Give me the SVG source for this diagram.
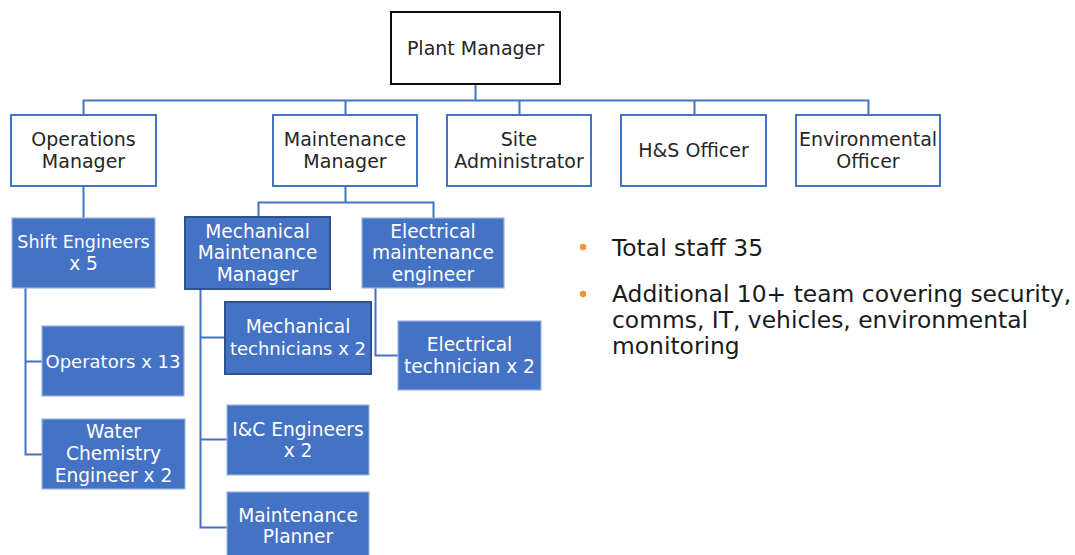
<svg xmlns="http://www.w3.org/2000/svg" width="1075" height="555" viewBox="0 0 1075 555">
  <style>
    .lbl { font-family: "DejaVu Sans", "Liberation Sans", sans-serif; text-anchor: middle; }
    .dark { fill: #262626; font-size: 19px; }
    .light { fill: #ffffff; font-size: 18.6px; }
    .wbox { fill: #ffffff; stroke: #4472c4; stroke-width: 2; }
    .bbox { fill: #4472c4; stroke: #9db4e0; stroke-width: 1.2; }
    .bbox-em { fill: #4472c4; stroke: #2f528f; stroke-width: 2; }
    .link { fill: none; stroke: #4472c4; stroke-width: 2; }
    .note { font-family: "DejaVu Sans", "Liberation Sans", sans-serif; font-size: 23.4px; fill: #1a1a1a; }
  </style>

  <!-- reporting lines -->
  <g id="connectors">
    <path class="link" d="M475.5 84 V100.5 M83.5 115 V100.5 H868.5 V115 M345.5 100.5 V115 M519.5 100.5 V115 M694.5 100.5 V115"/>
    <path class="link" d="M83.5 186 V218"/>
    <path class="link" d="M25.5 288 V454.5 H42 M25.5 361.5 H42"/>
    <path class="link" d="M345.5 186 V202.5 M258.5 218 V202.5 H433.5 V218"/>
    <path class="link" d="M200.5 289 V527.5 H227 M200.5 337.5 H225 M200.5 439.5 H227"/>
    <path class="link" d="M375.5 288 V355.5 H398"/>
  </g>

  <!-- top level -->
  <g id="plant-manager">
    <rect x="391" y="12" width="169" height="72" fill="#ffffff" stroke="#0d0d0d" stroke-width="2"/>
    <text class="lbl dark" x="475.5" y="54.5">Plant Manager</text>
  </g>

  <!-- direct reports -->
  <g id="operations-manager">
    <rect class="wbox" x="11" y="115" width="145" height="71"/>
    <text class="lbl dark" x="83.5" y="146">Operations</text>
    <text class="lbl dark" x="83.5" y="168">Manager</text>
  </g>
  <g id="maintenance-manager">
    <rect class="wbox" x="273" y="115" width="144" height="71"/>
    <text class="lbl dark" x="345" y="146">Maintenance</text>
    <text class="lbl dark" x="345" y="168">Manager</text>
  </g>
  <g id="site-administrator">
    <rect class="wbox" x="447" y="115" width="144" height="71"/>
    <text class="lbl dark" x="519" y="146">Site</text>
    <text class="lbl dark" x="519" y="168">Administrator</text>
  </g>
  <g id="hs-officer">
    <rect class="wbox" x="621" y="115" width="145" height="71"/>
    <text class="lbl dark" x="693.5" y="157">H&amp;S Officer</text>
  </g>
  <g id="environmental-officer">
    <rect class="wbox" x="796" y="115" width="144" height="71"/>
    <text class="lbl dark" x="868" y="146">Environmental</text>
    <text class="lbl dark" x="868" y="168">Officer</text>
  </g>

  <!-- operations team -->
  <g id="shift-engineers">
    <rect class="bbox" x="12" y="218" width="143" height="70"/>
    <text class="lbl light" x="83.5" y="248" style="font-size:17.5px">Shift Engineers</text>
    <text class="lbl light" x="83.5" y="270">x 5</text>
  </g>
  <g id="operators">
    <rect class="bbox" x="42" y="326" width="142" height="70"/>
    <text class="lbl light" x="113" y="367.5" style="font-size:18px">Operators x 13</text>
  </g>
  <g id="water-chemistry-engineer">
    <rect class="bbox" x="42" y="419" width="143" height="70"/>
    <text class="lbl light" x="113.5" y="438">Water</text>
    <text class="lbl light" x="113.5" y="460">Chemistry</text>
    <text class="lbl light" x="113.5" y="481.5">Engineer x 2</text>
  </g>

  <!-- maintenance team -->
  <g id="mechanical-maintenance-manager">
    <rect class="bbox-em" x="185" y="217" width="145" height="72"/>
    <text class="lbl light" x="257.5" y="237.5">Mechanical</text>
    <text class="lbl light" x="257.5" y="259">Maintenance</text>
    <text class="lbl light" x="257.5" y="280.5">Manager</text>
  </g>
  <g id="electrical-maintenance-engineer">
    <rect class="bbox" x="362" y="218" width="142" height="70"/>
    <text class="lbl light" x="433" y="237.5">Electrical</text>
    <text class="lbl light" x="433" y="259">maintenance</text>
    <text class="lbl light" x="433" y="280.5">engineer</text>
  </g>
  <g id="mechanical-technicians">
    <rect class="bbox-em" x="225" y="302" width="146" height="72"/>
    <text class="lbl light" x="298" y="333">Mechanical</text>
    <text class="lbl light" x="298" y="354.5" style="font-size:18px">technicians x 2</text>
  </g>
  <g id="ic-engineers">
    <rect class="bbox" x="227" y="405" width="142" height="70"/>
    <text class="lbl light" x="298" y="435.5">I&amp;C Engineers</text>
    <text class="lbl light" x="298" y="457">x 2</text>
  </g>
  <g id="maintenance-planner">
    <rect class="bbox" x="227" y="492" width="142" height="72"/>
    <text class="lbl light" x="298" y="521.5">Maintenance</text>
    <text class="lbl light" x="298" y="543">Planner</text>
  </g>
  <g id="electrical-technician">
    <rect class="bbox" x="398" y="321" width="143" height="69"/>
    <text class="lbl light" x="469.5" y="351">Electrical</text>
    <text class="lbl light" x="469.5" y="372.5">technician x 2</text>
  </g>

  <!-- staffing notes -->
  <g id="notes">
    <circle cx="583" cy="247" r="3.2" fill="#f5932f"/>
    <circle cx="583" cy="294" r="3.2" fill="#f5932f"/>
    <text class="note" x="612" y="256">Total staff 35</text>
    <text class="note" x="612" y="302">Additional 10+ team covering security,</text>
    <text class="note" x="612" y="328">comms, IT, vehicles, environmental</text>
    <text class="note" x="612" y="354">monitoring</text>
  </g>
</svg>
